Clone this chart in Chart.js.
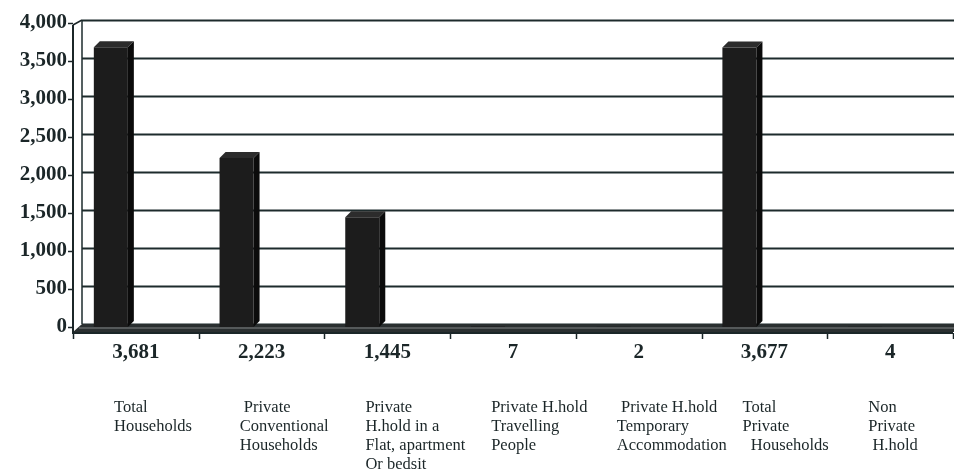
<!DOCTYPE html>
<html>
<head>
<meta charset="utf-8">
<script src="https://cdn.jsdelivr.net/npm/chart.js@4"></script>
<style>
  html, body { margin: 0; padding: 0; background: #ffffff; }
  #wrap { width: 954px; height: 474px; position: relative; }
</style>
</head>
<body>
<div id="wrap"><canvas id="c" width="954" height="474"></canvas></div>
<script>
// Household counts by type
const valueLabels = ['3,681', '2,223', '1,445', '7', '2', '3,677', '4'];
const households = [3681, 2223, 1445, 7, 2, 3677, 4];
const categoryNames = [
  ['Total', 'Households'],
  [' Private', 'Conventional', 'Households'],
  ['Private', 'H.hold in a', 'Flat, apartment', 'Or bedsit'],
  ['Private H.hold', 'Travelling', 'People'],
  [' Private H.hold', 'Temporary', 'Accommodation'],
  ['Total', 'Private', '  Households'],
  ['Non', 'Private', ' H.hold']
];
const emptySlot = [null, null, null, null, null, null, null];

const INK = '#1b2628';
const BAR = '#1c1c1c';
const DEPTH = 6;        // 3D depth offset for bars
const WALL_DX = 9;      // back wall shift right
const WALL_DY = 3;      // back wall shift up
const SERIF = '"Liberation Serif", "DejaVu Serif", serif';

const wallPlugin = {
  id: 'wall',
  beforeDatasetsDraw(chart) {
    const { ctx, chartArea: a, scales: { y } } = chart;
    ctx.save();
    // back wall gridlines
    ctx.strokeStyle = '#1d2b2c';
    ctx.lineWidth = 2;
    y.ticks.forEach(t => {
      const py = Math.round(y.getPixelForValue(t.value) - WALL_DY) + 0.5;
      ctx.beginPath();
      ctx.moveTo(a.left + WALL_DX, py);
      ctx.lineTo(chart.width, py);
      ctx.stroke();
    });
    // back wall left edge
    ctx.lineWidth = 1.5;
    ctx.beginPath();
    ctx.moveTo(a.left + WALL_DX, y.getPixelForValue(4000) - WALL_DY);
    ctx.lineTo(a.left + WALL_DX, a.bottom - WALL_DY);
    ctx.stroke();
    // floor
    ctx.fillStyle = '#2a2f30';
    ctx.beginPath();
    ctx.moveTo(a.left + WALL_DX, a.bottom - WALL_DY);
    ctx.lineTo(chart.width, a.bottom - WALL_DY);
    ctx.lineTo(chart.width, a.bottom + 5);
    ctx.lineTo(a.left, a.bottom + 5);
    ctx.closePath();
    ctx.fill();
    ctx.fillStyle = '#55595a';
    ctx.fillRect(a.left + 6, a.bottom, chart.width, 2);
    ctx.restore();
  },
  afterDatasetsDraw(chart) {
    const { ctx, chartArea: a, scales: { x, y } } = chart;
    ctx.save();
    // bar tops and sides
    chart.getDatasetMeta(0).data.forEach(bar => {
      const { x: cx, y: top, width: w, base } = bar.getProps(['x', 'y', 'width', 'base'], true);
      const l = cx - w / 2, r = cx + w / 2;
      if (base - top < 1) return;
      ctx.fillStyle = '#2c2c2c';
      ctx.beginPath();
      ctx.moveTo(l, top);
      ctx.lineTo(l + DEPTH, top - DEPTH);
      ctx.lineTo(r + DEPTH, top - DEPTH);
      ctx.lineTo(r, top);
      ctx.closePath();
      ctx.fill();
      ctx.fillStyle = '#0b0b0b';
      ctx.beginPath();
      ctx.moveTo(r, top);
      ctx.lineTo(r + DEPTH, top - DEPTH);
      ctx.lineTo(r + DEPTH, base - DEPTH);
      ctx.lineTo(r, base);
      ctx.closePath();
      ctx.fill();
    });
    // front axes
    ctx.strokeStyle = INK;
    ctx.lineWidth = 2;
    const fy = a.bottom + 5;
    ctx.beginPath();
    ctx.moveTo(a.left, y.getPixelForValue(4000) + 2);
    ctx.lineTo(a.left, fy + 1);
    ctx.lineTo(a.right, fy + 1);
    ctx.stroke();
    ctx.lineWidth = 1.5;
    ctx.beginPath();
    ctx.moveTo(a.left, y.getPixelForValue(4000) + 2);
    ctx.lineTo(a.left + WALL_DX, y.getPixelForValue(4000) - WALL_DY);
    ctx.stroke();
    // y tick marks
    ctx.lineWidth = 1.5;
    y.ticks.forEach(t => {
      const py = Math.round(y.getPixelForValue(t.value)) + 0.5;
      ctx.beginPath();
      ctx.moveTo(a.left - 5, py);
      ctx.lineTo(a.left, py);
      ctx.stroke();
    });
    // x tick marks at category boundaries
    const cw = x.width / households.length;
    for (let i = 0; i <= households.length; i++) {
      const px = Math.round(a.left + i * cw) + 0.5;
      ctx.beginPath();
      ctx.moveTo(px, fy + 1);
      ctx.lineTo(px, fy + 7);
      ctx.stroke();
    }
    ctx.restore();
  },
  afterDraw(chart) {
    const { ctx, chartArea: a, scales: { x } } = chart;
    const cw = x.width / households.length;
    ctx.save();
    ctx.fillStyle = INK;
    ctx.font = '16.5px ' + SERIF;
    ctx.textAlign = 'left';
    ctx.textBaseline = 'middle';
    categoryNames.forEach((lines, i) => {
      const left = x.getPixelForValue(i) - cw / 2 + 41;
      lines.forEach((t, k) => {
        ctx.fillText(t, left, a.bottom + 81 + k * 19);
      });
    });
    ctx.restore();
  }
};

new Chart(document.getElementById('c'), {
  type: 'bar',
  data: {
    labels: valueLabels,
    datasets: [
      { data: households, backgroundColor: BAR, borderWidth: 0 },
      { data: emptySlot, backgroundColor: 'rgba(0,0,0,0)', borderWidth: 0 }
    ]
  },
  options: {
    responsive: false,
    animation: false,
    events: [],
    categoryPercentage: 0.796,
    barPercentage: 0.68,
    layout: { padding: { top: 23, right: 1, bottom: 0, left: 0 } },
    plugins: { legend: { display: false }, tooltip: { enabled: false } },
    scales: {
      x: {
        grid: { display: false, drawTicks: false },
        border: { display: false },
        ticks: {
          color: INK,
          font: { family: SERIF, size: 21, weight: 'bold' },
          padding: 13,
          maxRotation: 0,
          autoSkip: false
        },
        afterFit(scale) { scale.height = 147; }
      },
      y: {
        min: 0,
        max: 4000,
        grid: { display: false, drawTicks: false },
        border: { display: false },
        ticks: {
          stepSize: 500,
          color: INK,
          font: { family: SERIF, size: 21, weight: 'bold' },
          padding: 6,
          callback: v => v.toLocaleString('en-US')
        },
        afterFit(scale) { scale.width = 73; }
      }
    }
  },
  plugins: [wallPlugin]
});
</script>
</body>
</html>
